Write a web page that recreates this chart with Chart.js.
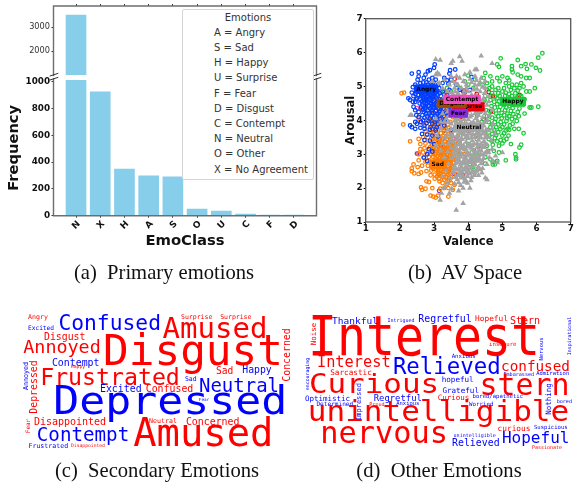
<!DOCTYPE html>
<html><head><meta charset="utf-8">
<script src="https://cdn.jsdelivr.net/npm/chart.js@4"></script>
<style>
html,body{margin:0;padding:0;background:#fff;width:576px;height:483px;overflow:hidden}
#root{position:relative;width:576px;height:483px;filter:blur(.35px)}
canvas{position:absolute;display:block}
.cap{position:absolute;transform:translate(-50%,-50%);font-family:"Liberation Serif",serif;font-size:20.6px;white-space:pre;color:#111}
.w{position:absolute;font-family:"DejaVu Sans Mono",monospace;white-space:pre;line-height:1}
#leg{position:absolute;left:182px;top:9px;width:130px;height:169px;background:#fff;border:1px solid #d4d4d4;border-radius:2px;font-family:"DejaVu Sans",sans-serif;font-size:10px;color:#333}
#leg div{position:absolute;left:31px;white-space:pre;line-height:1;transform:translateY(-50%)}
</style></head><body><div id="root">
<canvas id="barTop" width="330" height="80" style="left:0;top:0"></canvas>
<canvas id="barBot" width="330" height="174" style="left:0;top:76px"></canvas>
<canvas id="av" width="246" height="249" style="left:330px;top:0"></canvas>
<div id="leg"></div>
<div class="cap" style="left:164px;top:272px">(a)  Primary emotions</div>
<div class="cap" style="left:465px;top:272px">(b)  AV Space</div>
<div class="cap" style="left:157px;top:470px">(c)  Secondary Emotions</div>
<div class="cap" style="left:439px;top:470px">(d)  Other Emotions</div>
</div>
<script>
// ---- data ----
const emoClasses=['N','X','H','A','S','O','U','C','F','D'];
const emoFrequency=[3500,923,348,298,289,50,35,12,2,2];
const topTicks=[2000,3000];
const bottomTicks=[0,200,400,600,800,1000];
const legendTitle='Emotions';
const legendRows=['A = Angry','S = Sad','H = Happy','U = Surprise','F = Fear','D = Disgust','C = Contempt','N = Neutral','O = Other','X = No Agreement'];
const avTicks=[1,2,3,4,5,6,7];
const neutral=[[3.05,5.8],[3.18,5.78],[3.75,5.88],[3.82,5.75],[4.38,5.9],[3.55,5.75],[3.5,5.68],[4.7,5.68],[4.2,5.5],[4.25,5.5],[3.05,5.35],[3.1,5.4],[3.15,5.35],[2.95,5.15],[2.3,4.15],[2.35,4.15],[3.18,1.65],[3.65,1.35],[3.85,1.55],[3.45,1.85],[3.85,2.0],[4.05,2.0],[4.5,2.3],[4.55,2.25],[4.4,2.45],[4.25,2.5],[5.0,3.05],[4.85,2.75],[4.8,2.95],
[3.3,5.2],[3.5,5.3],[3.62,5.1],[3.75,5.25],[3.9,5.35],[4.05,5.42],[4.2,5.3],[4.38,5.25],[4.5,5.15],[4.3,5.05],[4.1,5.12],[3.95,5.05],[3.8,4.95],[3.6,4.95],[3.45,5.05],[3.25,4.95],[3.15,5.1],[3.4,4.85],[3.55,4.75],[3.7,4.8],[3.85,4.75],[4.0,4.85],[4.15,4.9],[4.35,4.85],[4.5,4.95],[4.6,4.7],[4.45,4.65],[4.25,4.72],[4.05,4.65],[3.9,4.55],[3.7,4.5],[3.5,4.6],[3.3,4.7],[3.15,4.5],
[3.35,4.4],[3.55,4.35],[3.75,4.3],[3.95,4.35],[4.15,4.45],[4.35,4.4],[4.55,4.45],[4.7,4.3],[4.5,4.2],[4.3,4.15],[4.1,4.15],[3.9,4.1],[3.65,4.05],[3.45,4.15],[3.25,4.2],[3.05,4.05],[3.3,3.95],[3.5,3.9],[3.72,3.85],[3.95,3.9],[4.15,3.95],[4.35,3.92],[4.55,4.0],[4.72,3.9],[4.6,3.7],[4.4,3.7],[4.2,3.72],[4.0,3.68],[3.8,3.62],[3.6,3.68],[3.4,3.72],[3.2,3.75],[3.1,3.55],[3.32,3.5],[3.52,3.45],[3.72,3.42],[3.92,3.48],[4.1,3.5],[4.3,3.52],[4.5,3.48],[4.68,3.4],[4.78,3.6],[4.55,3.28],[4.38,3.3],[4.18,3.3],[4.0,3.25],[3.82,3.22],[3.62,3.25],[3.42,3.3],[3.25,3.32],[3.05,3.25],[3.2,3.1],[3.4,3.08],[3.58,3.05],[3.78,3.02],[3.98,3.05],[4.18,3.1],[4.38,3.1],[4.55,3.08],[4.7,3.15],[4.62,2.9],[4.45,2.88],[4.28,2.9],[4.08,2.85],[3.88,2.82],[3.68,2.85],[3.5,2.88],[3.3,2.9],[3.2,2.72],[3.42,2.7],[3.6,2.65],[3.8,2.62],[4.0,2.66],[4.2,2.7],[4.38,2.72],[4.55,2.7],[4.42,2.58],[4.15,2.52],[3.95,2.45],[3.75,2.42],[3.55,2.48],[3.35,2.52],[3.25,2.35],[3.48,2.3],[3.68,2.25],[3.9,2.28],[4.1,2.32],[4.3,2.38],[3.6,2.12],[3.78,2.08],[3.98,2.15],[3.4,2.15],[3.3,2.02],[3.52,1.98],[3.72,1.92],[3.22,1.85],
[3.36,4.05],[3.58,4.22],[3.84,4.18],[4.02,4.28],[4.24,4.3],[4.42,4.55],[3.66,3.72],[3.86,3.76],[4.08,3.82],[4.28,3.82],[4.46,3.84],[3.48,3.58],[3.68,3.55],[3.88,3.58],[4.06,3.6],[4.24,3.6],[4.42,3.6],[3.58,3.36],[3.76,3.32],[3.94,3.36],[4.12,3.4],[4.3,3.42],[4.46,3.38],[3.68,3.14],[3.88,3.14],[4.08,3.18],[4.26,3.2],[4.46,3.2],[3.58,2.95],[3.78,2.92],[3.98,2.95],[4.18,2.98],[4.36,3.0],[3.7,2.75],[3.9,2.72],[4.1,2.76],[4.28,2.8],[3.85,2.55],[4.05,2.58],[3.65,2.55],[3.8,3.95],[4.0,4.02],[4.22,4.05],[4.42,4.08],[3.62,4.42],[3.82,4.42],[4.04,4.52],[4.26,4.58],
[3.72,4.02],[3.88,4.02],[4.06,4.1],[4.26,4.22],[4.46,4.32],[3.62,3.82],[3.78,3.8],[3.98,3.78],[4.16,3.84],[4.34,3.78],[4.52,3.72],[3.55,3.55],[3.74,3.65],[3.92,3.68],[4.1,3.7],[4.3,3.66],[4.48,3.62],[3.66,3.46],[3.82,3.44],[4.0,3.46],[4.2,3.5],[4.38,3.48],[3.7,3.28],[3.86,3.26],[4.06,3.3],[4.26,3.32],[4.42,3.22],[3.74,3.1],[3.94,3.12],[4.14,3.14],[4.32,3.1],[3.66,2.98],[3.86,2.98],[4.06,3.0],[4.26,3.05],[4.44,2.98],[3.74,2.82],[3.94,2.86],[4.16,2.88],[4.34,2.84],[3.78,2.7],[3.98,2.76],[4.18,2.78],[3.72,2.58],[3.92,2.62],[4.12,2.64],[4.3,2.62],[3.82,2.48],[4.02,2.5],[4.2,2.44],[3.78,2.3],[3.98,2.35],[4.18,2.38],[3.88,2.18],[4.08,2.22],[3.7,2.38],[3.85,4.68],[4.1,4.75],[3.95,4.95],[3.7,5.05],[4.2,5.05],[3.55,5.15],[4.35,5.12],[4.48,4.8],[4.6,4.55],[4.62,4.15],[4.7,3.75],[4.6,3.5],[4.6,3.05],[4.72,2.8],[4.35,2.55],[3.6,4.7],[3.45,4.48],[3.4,4.25],[3.28,4.45],[3.2,3.95],
[3.8,3.48],[3.97,3.56],[4.14,3.58],[4.33,3.58],[4.52,3.54],[3.62,3.12],[3.8,3.18],[3.96,3.22],[4.12,3.26],[4.32,3.26],[4.5,3.32],[3.72,2.92],[3.9,2.9],[4.1,2.92],[4.3,2.96],[4.5,3.04],[3.62,2.72],[3.84,2.76],[4.04,2.82],[4.22,2.84],[4.42,2.8],[3.58,2.58],[3.76,2.52],[3.96,2.54],[4.1,2.46],[4.26,2.56],[3.62,2.32],[3.84,2.38],[4.04,2.42],[3.72,2.16],[3.92,2.22],[3.62,4.18],[3.8,4.12],[3.98,4.2],[4.2,4.2],[4.38,4.26],[3.68,3.92],[3.88,3.86],[4.08,3.92],[4.28,3.98],[4.48,3.94],[3.6,3.98],[3.72,4.12],[3.7,4.66],[3.92,4.68],[4.16,4.66],[4.34,4.62],[3.5,4.82],[3.88,4.86],[4.26,4.92],[4.42,4.98],[3.62,4.85],[3.86,5.15],[4.06,5.22],[3.66,5.3],[4.24,5.18],[3.42,3.95],[3.5,3.75],[3.38,3.58],[3.46,3.38],[3.5,3.18]];
const angry=[[2.35,5.38],[2.55,5.42],[2.55,5.3],[2.52,5.2],[2.75,5.35],[2.82,5.45],[2.88,5.48],[3.0,5.55],[3.02,5.65],[3.47,5.48],[3.62,5.5],[4.1,5.28],[3.45,5.38],[3.3,5.25],[3.38,5.18],[3.5,5.2],[3.25,5.1],[3.42,5.08],[2.95,5.25],[2.7,5.25],[2.85,5.2],[3.05,5.2],[2.6,5.1],[2.78,5.12],[2.92,5.05],[2.45,5.05],[2.55,4.98],[2.7,5.0],[2.85,4.98],[3.0,5.0],[3.15,4.95],[2.38,4.98],[2.5,4.9],[2.65,4.88],[2.8,4.88],[2.95,4.9],[3.1,4.85],[2.4,4.72],[2.3,4.6],[2.25,4.65],[2.35,4.82],[2.45,4.78],[2.55,4.75],[2.65,4.75],[2.78,4.78],[2.9,4.75],[3.02,4.78],[3.2,4.72],[2.5,4.65],[2.6,4.62],[2.72,4.65],[2.85,4.65],[2.95,4.62],[3.08,4.65],[3.25,4.6],[2.45,4.55],[2.58,4.5],[2.7,4.52],[2.82,4.55],[2.92,4.48],[3.05,4.52],[3.18,4.48],[3.32,4.5],[2.4,4.4],[2.45,4.3],[2.55,4.25],[2.62,4.38],[2.75,4.42],[2.88,4.35],[3.0,4.38],[3.12,4.35],[3.28,4.35],[3.45,4.3],[2.7,4.25],[2.85,4.2],[2.98,4.22],[3.1,4.18],[3.25,4.2],[3.4,4.15],[2.55,4.1],[2.72,4.08],[2.88,4.05],[3.0,4.08],[3.18,4.05],[3.32,4.02],[2.45,3.95],[2.5,3.9],[2.62,3.95],[2.78,3.92],[2.95,3.9],[3.12,3.88],[3.3,3.85],[2.3,3.85],[2.35,3.8],[2.45,3.75],[2.6,3.78],[2.72,3.75],[2.88,3.72],[3.05,3.7],[2.65,3.6],[2.8,3.58],[2.95,3.55],[3.12,3.52],[3.5,3.72],[2.72,3.42],[2.88,3.4],[3.0,3.3],[2.8,3.0],[2.8,2.8],[2.7,2.9],[2.85,3.15],[2.95,3.08],[3.85,4.85],[4.05,4.9],[3.65,5.05],[3.75,4.9],
[2.62,4.96],[2.74,4.94],[2.88,4.92],[3.02,4.94],[2.58,4.84],[2.72,4.84],[2.86,4.82],[3.0,4.86],[3.16,4.8],[2.68,4.7],[2.8,4.72],[2.92,4.68],[3.04,4.7],[3.14,4.62],[2.64,4.56],[2.76,4.58],[2.88,4.6],[3.0,4.58],[3.12,4.56],[2.66,4.46],[2.78,4.48],[2.96,4.44],[3.1,4.44],[3.22,4.4],[2.68,4.32],[2.82,4.3],[2.94,4.3],[3.06,4.28],[3.18,4.28],[3.36,4.22],[2.66,4.15],[2.8,4.12],[2.92,4.14],[3.04,4.14],[3.16,4.12],[3.3,4.12],[2.68,4.0],[2.84,3.98],[3.02,3.96],[3.2,3.96],[2.72,3.85],[2.9,3.8],[3.08,3.8],[2.48,4.15],[2.62,4.72],[2.48,4.62],[2.38,4.55],[2.82,5.05],[2.98,5.12],[3.12,5.05],[2.68,5.12],[3.25,4.85],[3.38,4.75],[3.45,4.9],
[2.66,4.8],[2.74,4.78],[2.82,4.7],[2.98,4.72],[3.1,4.76],[2.7,4.6],[2.78,4.62],[2.9,4.52],[3.0,4.46],[3.1,4.5],[2.74,4.36],[2.84,4.42],[2.96,4.36],[3.2,4.55],[3.28,4.48],[3.34,4.62],[2.76,4.2],[2.94,4.22],[3.06,4.02],[2.74,4.95],[2.9,5.0],[3.06,4.9],[2.96,4.8],[2.84,4.76],[3.08,4.4],[3.16,4.24]];
const sad=[[2.05,4.8],[2.12,4.82],[2.1,3.88],[2.3,3.38],[2.55,4.05],[2.65,4.32],[2.75,4.3],[2.78,4.0],[2.85,4.15],[2.95,4.45],[3.05,4.3],[3.2,4.35],[3.35,4.35],[3.52,4.3],[3.4,4.55],[3.55,4.1],[3.7,3.95],[3.85,3.95],[2.68,3.9],[2.8,3.82],[2.95,3.85],[3.05,4.0],[3.18,3.95],[3.32,4.05],[3.48,3.95],[3.62,3.8],[2.75,3.68],[2.9,3.65],[3.05,3.72],[3.2,3.72],[3.35,3.75],[3.5,3.68],[3.7,3.55],[2.55,3.45],[2.68,3.5],[2.82,3.5],[2.98,3.5],[3.12,3.55],[3.28,3.55],[3.42,3.52],[3.58,3.45],[3.72,3.35],[2.6,3.3],[2.75,3.32],[2.9,3.35],[3.02,3.38],[3.18,3.38],[3.32,3.38],[3.48,3.32],[3.62,3.3],[3.8,3.2],[2.6,3.15],[2.72,3.18],[2.88,3.2],[3.0,3.2],[3.12,3.22],[3.25,3.22],[3.4,3.2],[3.55,3.15],[3.7,3.12],[3.88,3.0],[2.55,3.0],[2.68,3.05],[2.82,3.05],[2.95,3.05],[3.08,3.08],[3.2,3.08],[3.32,3.05],[3.45,3.05],[3.6,2.98],[3.75,2.95],[2.7,2.9],[2.85,2.92],[2.98,2.92],[3.1,2.95],[3.25,2.92],[3.38,2.92],[3.5,2.9],[3.65,2.85],[2.55,2.82],[2.75,2.78],[2.9,2.78],[3.05,2.8],[3.18,2.82],[3.32,2.8],[3.45,2.78],[3.58,2.75],[2.4,2.7],[2.35,2.58],[2.52,2.62],[2.65,2.66],[2.82,2.66],[2.98,2.68],[3.12,2.68],[3.28,2.68],[3.42,2.65],[3.55,2.62],[2.35,2.5],[2.42,2.44],[2.55,2.42],[2.62,2.46],[2.78,2.5],[2.92,2.52],[3.05,2.55],[3.2,2.55],[3.35,2.55],[3.5,2.5],[3.65,2.42],[2.9,2.38],[3.02,2.4],[3.15,2.42],[3.28,2.4],[3.42,2.4],[3.02,2.28],[3.15,2.28],[3.3,2.25],[3.45,2.22],[2.78,2.2],[2.85,2.18],[3.25,2.15],[3.38,2.12],[3.5,2.15],[3.6,2.1],[2.62,2.02],[2.65,1.95],[2.75,1.98],[2.95,2.0],[3.18,1.98],[3.3,2.0],[3.42,2.0],[3.55,1.95],[2.9,1.78],[2.98,1.75],[3.05,1.72],[3.12,1.78],[3.42,1.75],[3.38,2.88],[2.95,4.28],[3.15,4.15],[3.25,4.25],
[3.02,3.44],[3.14,3.46],[3.26,3.46],[3.38,3.46],[3.5,3.42],[2.94,3.28],[3.08,3.3],[3.2,3.3],[3.34,3.28],[3.46,3.26],[3.58,3.24],[2.96,3.14],[3.06,3.16],[3.18,3.16],[3.3,3.14],[3.42,3.12],[3.54,3.08],[3.66,3.04],[2.9,3.0],[3.02,3.0],[3.14,3.02],[3.26,3.0],[3.38,3.0],[3.52,2.98],[3.04,2.88],[3.16,2.88],[3.3,2.86],[3.44,2.86],[3.56,2.84],[2.96,2.74],[3.1,2.74],[3.24,2.74],[3.36,2.74],[3.5,2.7],[3.04,2.62],[3.18,2.62],[3.32,2.62],[3.46,2.58],[2.96,2.58],[3.12,2.48],[3.26,2.48],[3.4,2.48],[3.08,2.34],[3.22,2.34],[3.36,2.32],[3.5,2.32],[3.16,2.2],[3.4,2.22],[3.32,3.62],[3.2,3.62],[3.44,3.6],[3.08,3.62],[2.96,3.62],[3.14,3.82],[3.28,3.84],[3.4,3.88],[3.42,3.78],[3.08,3.9],[3.24,4.0],[2.98,3.95],[3.36,4.18],[3.1,4.22],[3.5,4.2],
[3.24,3.4],[3.12,3.38],[3.4,3.34],[3.54,3.36],[3.14,3.1],[3.26,3.1],[3.38,3.08],[3.48,3.14],[3.2,2.96],[3.32,2.94],[3.46,2.96],[3.58,2.92],[3.1,2.82],[3.22,2.8],[3.38,2.8],[3.5,2.82],[3.16,2.74],[3.3,2.7],[3.44,2.72],[3.1,2.6],[3.24,2.58],[3.4,2.56],[3.52,2.56],[3.2,2.44],[3.34,2.46],[3.46,2.44],[3.14,2.36],[3.3,2.32],[3.44,2.3],[3.26,3.26],[3.16,3.24],[3.4,3.26],[3.52,3.2],[3.36,3.16],[3.06,3.02],[3.2,3.02],[3.02,2.7],[3.12,2.54]];
const happy=[[6.17,5.98],[6.05,5.85],[5.45,5.78],[5.68,5.66],[5.85,5.65],[5.72,5.52],[5.98,5.55],[6.1,5.47],[5.55,5.6],[5.28,5.6],[4.95,5.83],[4.85,5.65],[4.9,5.58],[5.28,5.5],[5.0,5.3],[5.15,5.25],[5.3,5.42],[5.45,5.35],[5.55,5.3],[5.7,5.25],[5.8,5.25],[4.85,5.25],[4.65,5.3],[4.5,5.4],[4.7,5.15],[4.92,5.15],[5.1,5.1],[5.28,5.05],[5.42,5.05],[5.55,5.1],[5.95,4.95],[5.8,4.85],[5.7,4.85],[5.5,4.95],[5.25,4.9],[5.05,4.95],[4.88,4.95],[4.7,5.0],[4.55,4.9],[4.42,5.05],[4.5,4.72],[4.7,4.8],[4.88,4.8],[5.0,4.85],[5.2,4.78],[5.38,4.8],[5.55,4.72],[5.65,4.62],[5.4,4.65],[5.2,4.65],[5.0,4.62],[4.85,4.65],[4.65,4.6],[4.45,4.55],[6.05,4.4],[5.8,4.38],[5.85,4.38],[5.6,4.45],[5.4,4.45],[5.2,4.42],[5.05,4.45],[4.85,4.48],[4.68,4.42],[4.52,4.3],[4.72,4.25],[4.9,4.3],[5.08,4.3],[5.25,4.28],[5.45,4.25],[5.65,4.2],[4.7,4.08],[4.88,4.12],[5.05,4.15],[5.2,4.12],[5.38,4.1],[4.6,3.95],[4.78,3.95],[4.95,3.95],[5.12,3.98],[5.3,3.9],[5.35,3.75],[5.15,3.75],[5.2,3.72],[5.0,3.8],[4.82,3.8],[4.65,3.8],[4.5,3.62],[4.7,3.6],[4.88,3.65],[5.05,3.62],[5.62,3.62],[5.48,3.75],[4.6,3.45],[4.78,3.48],[4.95,3.42],[5.12,3.45],[5.25,3.3],[5.5,3.2],[5.55,3.28],[4.25,3.45],[4.55,3.25],[4.72,3.28],[4.9,3.25],[5.0,3.32],[4.35,3.15],[4.58,3.1],[4.75,3.1],[4.9,3.05],[5.38,3.0],[5.4,2.9],[5.4,2.85],[5.1,2.82],[4.1,3.05],[4.25,2.95],[4.5,2.92],[4.65,2.85],[4.72,2.78],[4.85,2.8],[4.72,2.7],[4.78,2.7],[4.05,2.72],[4.15,2.62],[3.95,2.55],[4.5,2.72],[3.75,3.35],[3.85,3.6],[3.95,3.75],[3.78,3.0],[4.0,3.3],[4.3,3.7],[4.4,3.95],[4.35,4.25],[4.15,4.95],[4.0,5.05],[3.9,5.15],[4.0,5.32],[4.2,5.2],[3.75,4.95],[3.3,4.85],[3.38,4.95],[3.5,4.85],[3.52,3.55],[3.6,3.25],[3.65,3.05],[4.45,5.25],[5.2,5.18],[4.55,5.1],
[4.78,4.7],[4.92,4.72],[5.08,4.72],[5.28,4.72],[5.46,4.7],[4.76,4.55],[4.9,4.56],[5.06,4.54],[5.22,4.54],[5.34,4.56],[5.5,4.55],[4.78,4.38],[4.94,4.4],[5.12,4.38],[5.3,4.36],[5.5,4.35],[4.62,4.28],[4.82,4.2],[4.98,4.22],[5.15,4.2],[5.32,4.18],[4.62,4.12],[4.8,4.04],[4.98,4.06],[5.14,4.06],[5.28,4.04],[4.7,3.88],[4.88,3.88],[5.05,3.88],[5.22,3.85],[4.58,3.72],[4.76,3.72],[4.94,3.74],[5.1,3.7],[4.62,3.55],[4.82,3.56],[5.0,3.55],[5.18,3.55],[4.7,3.38],[4.85,3.38],[5.05,3.4],[5.45,4.88],[5.1,4.82],[4.8,4.9],[5.35,4.95],[5.62,5.0],[5.2,5.0],[4.62,4.95],[5.42,3.98],[5.48,4.12],[4.48,4.6],[4.55,4.12]];
const surprise=[[3.6,5.22],[3.35,4.82],[3.9,4.82],[3.88,4.88],[4.25,4.78],[4.6,4.84],[4.65,4.72],[4.72,4.72],[5.5,4.75],[2.97,4.7],[4.67,4.26],[4.27,4.15],[4.45,4.03],[3.05,3.75],[2.95,3.75],[3.15,3.35],[3.2,3.25],[3.5,3.6],[4.25,3.58],[4.03,3.68],[4.25,3.12],[3.85,2.38],[3.42,4.3],[3.78,4.1],[4.15,4.6]];
const fear=[[3.15,1.92],[3.6,2.42],[3.45,3.37],[2.5,3.02],[3.3,3.92],[2.95,3.75]];
const disgust=[[3.6,4.35],[3.2,4.55],[3.0,3.9],[3.5,4.5],[2.9,4.0],[3.3,3.7]];
const contempt=[[2.5,4.36],[2.6,4.34],[2.58,3.95],[2.55,3.02],[3.55,2.65],[3.65,3.45],[3.25,3.93],[3.6,4.55]];
const emotionNames=['Angry','Sad','Happy','Surprise','Fear','Disgust','Contempt','Neutral'];
const labelCentres=[[2.77,4.92],[3.11,2.71],[5.31,4.56],[4.0,4.40],[3.71,4.21],[3.52,4.50],[3.82,4.62],[4.02,3.80]];
const secondaryWords=['Angry','Excited','Confused','Amused','Surprise','Surprise','Disgust','Annoyed','Disgust','Concerned','Contempt','Happy','Depressed','Annoyed','Frustrated','Sad','Happy','Sad','Neutral','Excited','Confused','Depressed','Fear','Fear','Disappointed','Neutral','Concerned','Amused','Contempt','Frustrated','Disappointed'];
const otherWords=['Interest','Noise','Thankful','Intrigued','Regretful','Hopeful','Stern','Nervous','Inspirational','insecure','Anxious','Interest','Relieved','confused','encouraging','Sarcastic','Embarassed','Admiration','Curious','hopeful','stern','Impressed','Grateful','Nothing','Optimistic','Regretful','Curious','bored/apathetic','bored','Determined','Proud','Anxious','Worried','unintelligible','nervous','curious','Suspicious','unintelligible','Hopeful','Relieved','Passionate'];
// ---- layout & style ----
// [centre x, centre y, font px, colour, vertical, height scale]
const secondaryLayout=[[38,317,6.6,'r'],[41,327.7,6.2,'b'],[109.7,323,21.3,'b'],[215,328,29,'r'],[196.7,317,6.5,'r'],[235.8,317,6.5,'r'],[64.7,336.7,9.8,'r'],[62,346.7,18.4,'r'],[193,350,42.7,'r'],[286.7,355,9.9,'r',1],[75.7,362.7,9.9,'b'],[78,367.3,4.8,'r'],[34,387,9.9,'r',1],[25.7,376,6.7,'b',1],[110,376.7,23.2,'r'],[224.7,370.7,9.6,'r'],[257,370,9.8,'b'],[190.8,379.3,6.5,'b'],[239,385,19,'b'],[120.8,389,9.9,'b'],[169.5,389,9.9,'r'],[170.3,400.8,43.2,'b',0,.92],[204,400,4.3,'b'],[28.3,425.8,6,'r',1],[70,421.7,10,'r'],[163,420.7,6.6,'r'],[212.7,421.7,9.9,'r'],[203.3,433,38.8,'r'],[83,434.7,19.2,'b'],[48.3,445.7,6.6,'b'],[88,445.7,4.7,'r']];
const otherLayout=[[424,336,48.2,'r',0,1.15],[314.3,334,7.4,'r',1],[355,321,9.5,'b'],[401,320,5,'b'],[445,319,9.9,'b'],[491.5,319.3,7.8,'r'],[525,320.7,10,'r'],[542,349,5.5,'b',1],[568.7,336,4.9,'b',1],[502.8,345.3,5.7,'r'],[463.7,356.7,5.7,'b'],[353.8,362.7,15.3,'r'],[446.8,366,22.4,'b'],[535.5,365.7,14.3,'r'],[306.7,374,4.9,'b',1],[351,372.7,7.7,'r'],[518.8,374.7,5.1,'b'],[552.7,374.3,5.5,'b'],[374,384,30.9,'r',0,.88],[457.7,380.3,7.6,'b'],[524.5,385,29.9,'r'],[359.3,401.7,7,'b',1],[460.7,391,7.6,'b'],[549.3,399,7.5,'b',1],[327.5,399,7.5,'b'],[397.8,397.7,8.9,'b'],[453.5,397.7,7.5,'r'],[497.8,397.3,5.6,'b'],[564.3,402.3,5.1,'b'],[334.8,404.3,6.1,'b'],[377,405,5.1,'r'],[407.8,403.7,5.5,'b'],[481.2,404.7,5.8,'b'],[438.5,411.7,31,'r',0,.9],[384.2,432.8,30.3,'r'],[514,429.3,7.8,'r'],[550.8,428,5.6,'b'],[474.7,435.3,5,'b'],[535.7,437.7,16,'b'],[475.8,443.3,9.9,'b'],[547,446.7,5,'r']];
const PAL={Angry:'#023eff',Sad:'#ff7c00',Happy:'#1ac938',Surprise:'#e8000b',Fear:'#8b2be2',Disgust:'#9f4800',Contempt:'#f14cc1',Neutral:'#a3a3a3'};
const SANS='"DejaVu Sans",sans-serif';
const root=document.getElementById('root');
function cloud(words,layout){
  words.forEach((t,i)=>{const [x,y,s,c,v,k]=layout[i];const e=document.createElement('span');
    e.className='w';e.textContent=t;
    const tf=`translate(-50%,-50%)${v?' rotate(-90deg)':''}${k?` scaleY(${k})`:''}`;
    e.style.cssText=`left:${x}px;top:${y}px;font-size:${s}px;color:${c==='r'?'#f00':'#00f'};transform:${tf}`;root.appendChild(e);});
}
cloud(secondaryWords,secondaryLayout);cloud(otherWords,otherLayout);
const leg=document.getElementById('leg');
[legendTitle,...legendRows].forEach((t,i)=>{const d=document.createElement('div');d.textContent=t;
  const ys=[7.5,22.5,37.5,52.5,68,83.5,98.5,113.5,128.5,143.5,159.5];d.style.top=ys[i]+'px';
  if(i===0){d.style.left='50%';d.style.transform='translate(-50%,-50%)';}leg.appendChild(d);});

const barPts=emoFrequency.map((v,i)=>({x:i,y:v}));
const SP='#6e6e6e';
function spines(o){return {id:'spines',afterDatasetsDraw(c){const a=c.chartArea,g=c.ctx;g.save();g.strokeStyle=SP;g.lineWidth=1.4;g.beginPath();
  [a.left,a.right].forEach(x=>{g.moveTo(x,o.y0);g.lineTo(x,o.y1);});
  const h=o.top?a.top:a.bottom;g.moveTo(a.left-.7,h);g.lineTo(a.right+.7,h);
  g.stroke();g.strokeStyle='#333';g.lineWidth=1;g.beginPath();
  [a.left,a.right].forEach(x=>{g.moveTo(x-3.8,o.slash+1.4);g.lineTo(x+4.8,o.slash-1.4);});g.stroke();g.restore();}};}
new Chart('barTop',{type:'bar',plugins:[spines({top:true,y0:6,y1:76.3,slash:74.7})],
 data:{datasets:[{data:barPts,backgroundColor:'#87ceeb',barThickness:20}]},
 options:{responsive:false,animation:false,layout:{padding:{bottom:5,right:13.5}},plugins:{legend:{display:false},tooltip:{enabled:false}},
  scales:{
   x:{type:'linear',offset:false,position:'top',min:-.93,max:9.93,grid:{offset:false,drawOnChartArea:false,drawTicks:true,tickLength:2,tickColor:'#333'},border:{display:false},
      ticks:{display:false},afterBuildTicks:s=>{s.ticks=emoClasses.map((_,i)=>({value:i}));},afterFit:s=>{s.height=6;s.paddingLeft=s.paddingRight=0;}},
   y:{min:1000,max:3875,grid:{drawOnChartArea:false,tickLength:2,tickColor:'#333'},border:{display:false},
      ticks:{color:'#333',font:{family:SANS,size:8.2},padding:1.5,callback:v=>String(v)},afterBuildTicks:s=>{s.ticks=topTicks.map(v=>({value:v}));},afterFit:s=>{s.width=53.5;s.paddingTop=s.paddingBottom=0;}}
  }}});
new Chart('barBot',{type:'bar',plugins:[spines({top:false,y0:2,y1:139.7,slash:2.7})],
 data:{datasets:[{data:barPts,backgroundColor:'#87ceeb',barThickness:20}]},
 options:{responsive:false,animation:false,layout:{padding:{top:4,right:13.5}},plugins:{legend:{display:false},tooltip:{enabled:false}},
  scales:{
   x:{type:'linear',offset:false,min:-.93,max:9.93,grid:{offset:false,drawOnChartArea:false,tickLength:2,tickColor:'#333'},border:{display:false},
      ticks:{autoSkip:false,color:'#111',font:{family:SANS,size:9,weight:'bold'},maxRotation:45,minRotation:45,labelOffset:3,padding:1,callback:v=>emoClasses[v]},
      afterBuildTicks:s=>{s.ticks=emoClasses.map((_,i)=>({value:i}));},
      title:{display:true,text:'EmoClass',color:'#111',font:{family:SANS,size:14.8,weight:'bold'},padding:{top:0,bottom:0}},
      afterFit:s=>{s.height=174-139.7;s.paddingLeft=s.paddingRight=0;}},
   y:{min:0,max:1012,grid:{drawOnChartArea:false,tickLength:2,tickColor:'#333'},border:{display:false},
      ticks:{color:'#111',font:{family:SANS,size:8.8,weight:'bold'},padding:1.5,callback:v=>String(v)},
      afterBuildTicks:s=>{s.ticks=bottomTicks.map(v=>({value:v}));},
      title:{display:true,text:'Frequency',color:'#111',font:{family:SANS,size:14.7,weight:'bold'},padding:{top:5,bottom:0}},
      afterFit:s=>{s.width=53.5;s.paddingTop=s.paddingBottom=0;}}
  }}});
const circ=(name,data)=>({label:name,data:data.map(p=>({x:p[0],y:p[1]})),pointStyle:'circle',pointRadius:1.8,pointBorderWidth:1.25,borderColor:PAL[name],backgroundColor:'transparent',showLine:false});
const labelsPlugin={id:'avLabels',afterDatasetsDraw(c){const g=c.ctx,X=c.scales.x,Y=c.scales.y;g.save();g.font='bold 5.9px '+SANS;g.textAlign='center';g.textBaseline='middle';
  emotionNames.forEach((n,i)=>{const x=X.getPixelForValue(labelCentres[i][0]),y=Y.getPixelForValue(labelCentres[i][1]),w=g.measureText(n).width+5;
    g.fillStyle=PAL[n];g.beginPath();g.roundRect(x-w/2,y-4.6,w,9.2,1);g.fill();g.fillStyle='#000';g.fillText(n,x,y);});
  const a=c.chartArea;g.strokeStyle='#555';g.lineWidth=1.3;g.strokeRect(a.left,a.top,a.right-a.left,a.bottom-a.top);g.restore();}};
new Chart('av',{type:'scatter',plugins:[labelsPlugin],
 data:{datasets:[
  {label:'Neutral',data:neutral.map(p=>({x:p[0],y:p[1]})),pointStyle:'triangle',pointRadius:3.3,pointBorderWidth:0,backgroundColor:PAL.Neutral,borderColor:PAL.Neutral},
  circ('Angry',angry),circ('Sad',sad),circ('Happy',happy),circ('Surprise',surprise),circ('Fear',fear),circ('Disgust',disgust),circ('Contempt',contempt)]},
 options:{responsive:false,animation:false,layout:{padding:{top:18.7,right:5.3}},plugins:{legend:{display:false},tooltip:{enabled:false}},
  scales:{
   x:{type:'linear',min:1,max:7,grid:{drawOnChartArea:false,tickLength:2,tickColor:'#111'},border:{display:false},
      ticks:{stepSize:1,color:'#111',font:{family:SANS,size:8.8,weight:'bold'},padding:-1,maxRotation:0},
      afterBuildTicks:s=>{s.ticks=avTicks.map(v=>({value:v}));},
      title:{display:true,text:'Valence',color:'#111',font:{family:SANS,size:11.5,weight:'bold'},padding:{top:0,bottom:0}},
      afterFit:s=>{s.height=27;s.paddingLeft=s.paddingRight=0;}},
   y:{type:'linear',min:1,max:7,grid:{drawOnChartArea:false,tickLength:2,tickColor:'#111'},border:{display:false},
      ticks:{stepSize:1,color:'#111',font:{family:SANS,size:8.8,weight:'bold'},padding:1},
      afterBuildTicks:s=>{s.ticks=avTicks.map(v=>({value:v}));},
      title:{display:true,text:'Arousal',color:'#111',font:{family:SANS,size:11.5,weight:'bold'},padding:{top:14,bottom:0}},
      afterFit:s=>{s.width=35.7;s.paddingTop=s.paddingBottom=0;}}
  }}});
</script></body></html>
